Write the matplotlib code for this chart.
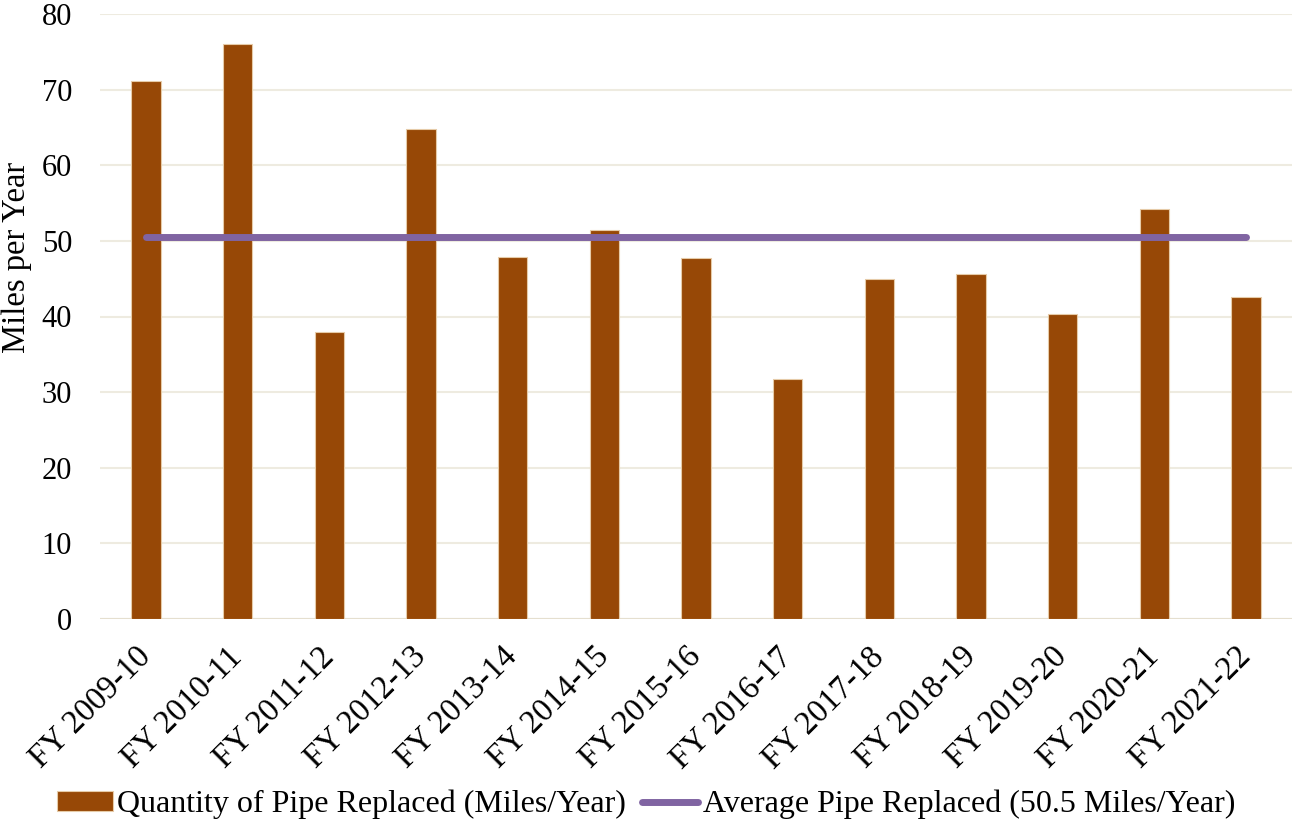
import matplotlib
matplotlib.use("Agg")
import matplotlib.pyplot as plt
import numpy as np

plt.rcParams['font.family'] = ['Liberation Serif', 'DejaVu Serif']

years = ["FY 2009-10", "FY 2010-11", "FY 2011-12", "FY 2012-13", "FY 2013-14",
         "FY 2014-15", "FY 2015-16", "FY 2016-17", "FY 2017-18", "FY 2018-19",
         "FY 2019-20", "FY 2020-21", "FY 2021-22"]
miles_replaced = [71.1, 76.0, 37.9, 64.8, 47.9, 51.4, 47.8, 31.8, 44.9, 45.6, 40.3, 54.2, 42.6]
average_miles = 50.5
y_ticks = [0, 10, 20, 30, 40, 50, 60, 70, 80]

bar_color = "#974806"
line_color = "#8064A2"
grid_color = "#EEEBE0"

fig = plt.figure(figsize=(12.92, 8.25), dpi=100)
ax = fig.add_axes([100 / 1292, 1 - 619 / 825, 1192 / 1292, (619 - 14) / 825])

x = np.arange(len(years))
bars = ax.bar(x, miles_replaced, width=0.32, color=bar_color, edgecolor="#E6CBA8",
              linewidth=0.8, zorder=2, label="Quantity of Pipe Replaced (Miles/Year)")
avg_line, = ax.plot(x, [average_miles] * len(x), color=line_color, linewidth=5,
                    solid_capstyle="round", zorder=3,
                    label="Average Pipe Replaced (50.5 Miles/Year)")

ax.set_xlim(-0.5, len(years) - 0.5)
ax.set_ylim(0, 80)
ax.set_yticks(y_ticks)
ax.yaxis.grid(True, color=grid_color, linewidth=1.5, zorder=0)
ax.set_axisbelow(True)
for side in ["top", "right", "left", "bottom"]:
    ax.spines[side].set_visible(False)
ax.axhline(0, color="#E5DFCF", linewidth=1.5, zorder=1)

ax.tick_params(axis="y", length=0, pad=20, labelsize=22)
ax.tick_params(axis="x", length=0, pad=24, labelsize=23.5)
ax.set_xticks(x)
ax.set_xticklabels(years, rotation=45, ha="right", va="center", rotation_mode="anchor")

ax.set_ylabel("Miles per Year", fontsize=23.5)
ax.yaxis.set_label_coords(-68 / 1192, 0.598)

fig.legend(handles=[bars, avg_line], loc="lower center", bbox_to_anchor=(0.5, -0.028),
           ncol=2, frameon=False, fontsize=23, handlelength=1.75, handleheight=0.6,
           handletextpad=0.15, columnspacing=0.5)

fig.savefig("out.png", dpi=100)
